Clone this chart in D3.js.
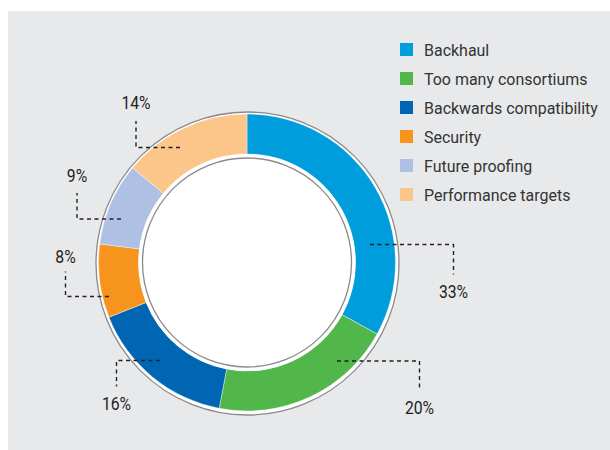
<!DOCTYPE html>
<html>
<head>
<meta charset="utf-8">
<script src="https://cdn.jsdelivr.net/npm/d3@7"></script>
<style>
  html, body { margin: 0; padding: 0; background: #ffffff; }
  svg { display: block; }
  text { font-family: Roboto, "Noto Sans", sans-serif; }
</style>
</head>
<body>
<svg id="chart" width="610" height="450"></svg>
<script>
// ---- data ----
const categories = ["Backhaul", "Too many consortiums", "Backwards compatibility", "Security", "Future proofing", "Performance targets"];
const values = [33, 20, 16, 8, 9, 14];
const valueLabels = ["33%", "20%", "16%", "8%", "9%", "14%"];
const colors = ["#009ddc", "#52b74b", "#0066b3", "#f7941d", "#aec0e4", "#fcc68b"];

// ---- annotation layout (leader-line elbows) ----
const leaders = [
  { x0: 370, y0: 244.5, x1: 453.5, y1: 274.5, ty: 297.5 },
  { x0: 337, y0: 361,   x1: 419.5, y1: 390.5, ty: 414 },
  { x0: 160, y0: 360.5, x1: 116.5, y1: 386.5, ty: 410 },
  { x0: 109, y0: 296.5, x1: 65.5,  y1: 271.5, ty: 262.5 },
  { x0: 121, y0: 219,   x1: 77,    y1: 193,   ty: 181.5 },
  { x0: 180, y0: 147.5, x1: 136,   y1: 121,   ty: 109 }
];

const svg = d3.select("#chart");
svg.append("rect").attr("x", 8).attr("y", 11).attr("width", 602).attr("height", 439).attr("fill", "#e8e9eb");

const cx = 247, cy = 262.5;
const outerR = 148.5, innerR = 108.5;

const g = svg.append("g").attr("transform", `translate(${cx},${cy})`);

// outer thin gray ring
g.append("circle").attr("cx", 0.5).attr("cy", 1).attr("r", 151.5)
  .attr("fill", "#ffffff").attr("stroke", "#8a8a8a").attr("stroke-width", 1.3);

const pie = d3.pie().sort(null).value(d => d);
const arc = d3.arc().innerRadius(innerR).outerRadius(outerR);

g.selectAll("path.slice")
  .data(pie(values))
  .join("path")
  .attr("class", "slice")
  .attr("d", arc)
  .attr("fill", (d, i) => colors[i])
  .attr("stroke", "#ffffff")
  .attr("stroke-width", 0.4);

// inner white disc with gray ring
g.append("circle").attr("r", innerR).attr("fill", "#ffffff");
g.append("circle").attr("r", 104.5)
  .attr("fill", "#ffffff").attr("stroke", "#8a8a8a").attr("stroke-width", 1.3);

// leader lines
svg.append("g").selectAll("path")
  .data(leaders)
  .join("path")
  .attr("d", d => d3.line()([[d.x0, d.y0], [d.x1, d.y0], [d.x1, d.y1]]))
  .attr("fill", "none")
  .attr("stroke", "#222")
  .attr("stroke-width", 1.4)
  .attr("stroke-dasharray", "4,3.5");

svg.append("g").selectAll("text")
  .data(leaders)
  .join("text")
  .attr("transform", d => `translate(${d.x1},${d.ty}) scale(0.9,1)`)
  .attr("text-anchor", "middle")
  .attr("font-size", 17.5)
  .attr("fill", "#1e1e1e")
  .text((d, i) => valueLabels[i]);

// legend
const legend = svg.append("g").attr("transform", "translate(400,43)");
const rows = legend.selectAll("g")
  .data(categories)
  .join("g")
  .attr("transform", (d, i) => `translate(0,${i * 29})`);
rows.append("rect").attr("width", 13).attr("height", 13).attr("fill", (d, i) => colors[i]);
rows.append("text")
  .attr("transform", "translate(24,12.8) scale(0.94,1)")
  .attr("font-size", 17)
  .attr("fill", "#333")
  .text(d => d);
</script>
</body>
</html>
